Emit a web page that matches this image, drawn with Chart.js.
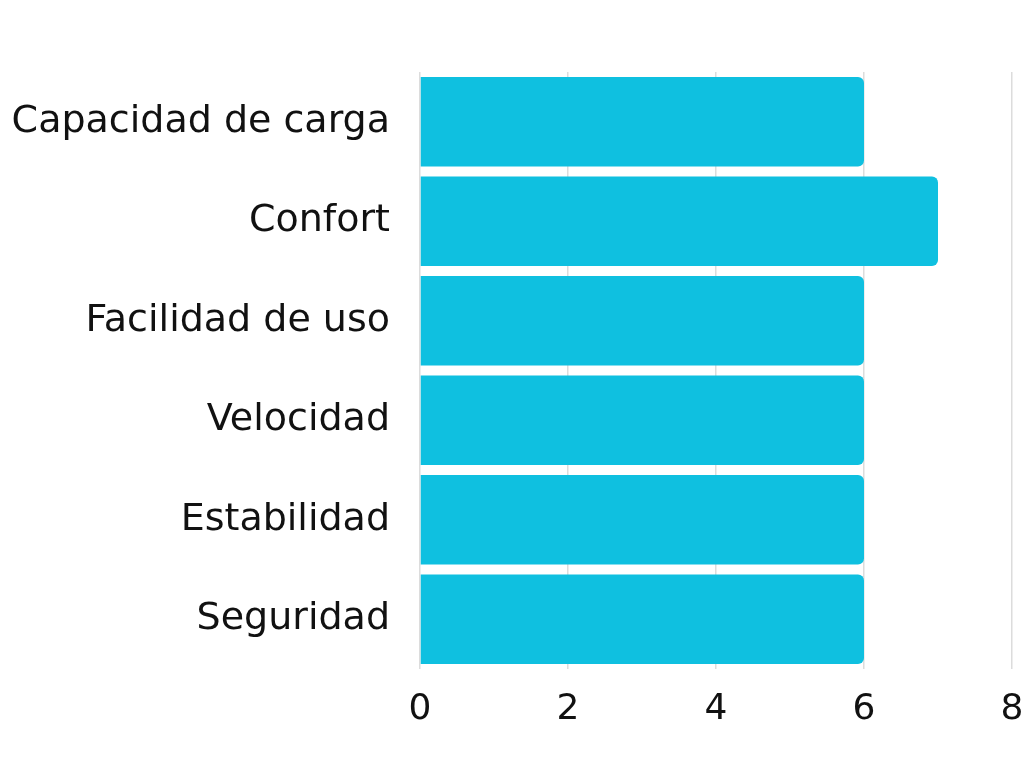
<!DOCTYPE html>
<html><head><meta charset="utf-8">
<script src="https://cdn.jsdelivr.net/npm/chart.js@4/dist/chart.umd.min.js"></script>
<style>html,body{margin:0;padding:0;background:#fff}#wrap{width:1024px;height:768px}</style>
</head><body><div id="wrap"><canvas id="c" width="1024" height="768"></canvas></div>
<script>
const categories = ["Capacidad de carga","Confort","Facilidad de uso","Velocidad","Estabilidad","Seguridad"];
const values = [6,7,6,6,6,6];
const xTicks = [0,2,4,6,8];

new Chart(document.getElementById('c'), {
  type: 'bar',
  data: { labels: categories, datasets: [{ data: values, backgroundColor: '#0fc0e0',
    borderRadius: {topLeft:0,bottomLeft:0,topRight:6,bottomRight:6}, borderSkipped: false,
    barPercentage: 0.9, categoryPercentage: 1.0 }] },
  options: {
    indexAxis: 'y', responsive: false, animation: false,
    layout: { padding: { top: 72, left: 0, right: 0, bottom: 0 } },
    plugins: { legend: { display: false }, tooltip: { enabled: false } },
    scales: {
      x: { min: 0, max: 8, afterBuildTicks: s => { s.ticks = xTicks.map(v => ({value: v})); },
        grid: { color: '#dcdcdc', drawTicks: false, lineWidth: 1.5 }, border: { display: false },
        ticks: { padding: 19, color: '#111', font: { family: 'DejaVu Sans', size: 36 } },
        afterFit: s => { s.height = 99; s.paddingRight = 12; s.paddingLeft = 0; } },
      y: { grid: { display: false, drawTicks: false }, border: { display: false },
        ticks: { padding: 30, color: '#111', font: { family: 'DejaVu Sans', size: 38 } },
        afterFit: s => { s.width = 420; } }
    }
  }
});
</script></body></html>
